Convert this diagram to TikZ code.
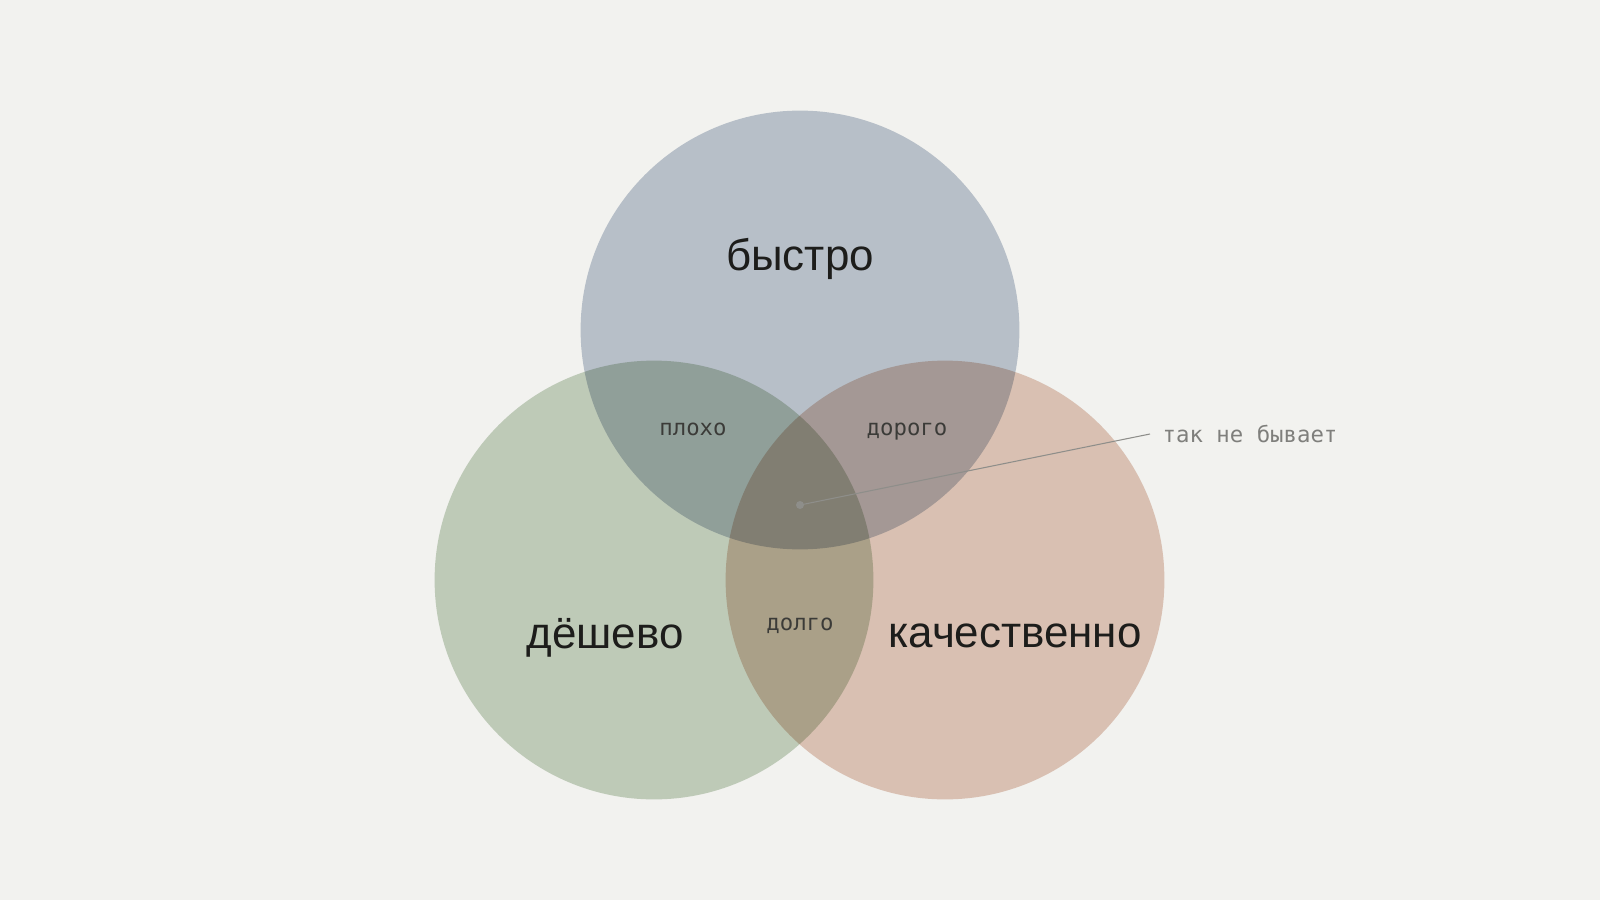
\documentclass[tikz,border=0pt]{standalone}
\usepackage{fontspec}
\setmainfont{Liberation Sans}
\newfontfamily\monofont{DejaVu Sans Mono}
\usepackage{tikz}
\usetikzlibrary{positioning,calc}

\definecolor{paper}{RGB}{242,242,239}
\definecolor{fastcol}{RGB}{193,202,214}
\definecolor{cheapcol}{RGB}{201,213,196}
\definecolor{goodcol}{RGB}{229,203,190}
\definecolor{ink}{RGB}{29,29,27}
\definecolor{midink}{RGB}{59,59,56}
\definecolor{greyink}{RGB}{127,127,124}
\definecolor{leadcol}{RGB}{142,142,138}

\begin{document}
\begin{tikzpicture}[
    set/.style={circle, minimum size=4.388cm, inner sep=0pt, blend mode=multiply},
    big/.style={anchor=base, inner sep=0pt, text=ink, font=\fontsize{12.5}{14}\selectfont},
    small/.style={anchor=base, inner sep=0pt, text=midink, font=\monofont\fontsize{6.35}{7}\selectfont},
    note/.style={inner sep=0pt, text=greyink, font=\monofont\fontsize{6.35}{7}\selectfont},
    leader/.style={draw=leadcol, line width=0.3pt}
]
    \fill[paper] (0,0) rectangle (16,9);
    \useasboundingbox (0,0) rectangle (16,9);

    % the three sets
    \node [set, fill=fastcol] (fast) at (8.00,5.70) {};
    \node [set, fill=cheapcol] (cheap) at (6.54,3.20) {};
    \node [set, fill=goodcol] (good) at (9.45,3.20) {};

    \node [big] (fastlbl) at (8.00,6.30) {быстро};
    \node [big] (cheaplbl) at (6.05,2.52) {дёшево};
    \node [big] (goodlbl) at (10.15,2.53) {качественно};

    % pairwise overlaps
    \node [small] (bad) at (6.93,4.65) {плохо};
    \node [small] (dear) at (9.07,4.65) {дорого};
    \node [small] (slow) at (8.00,2.70) {долго};

    % centre and its note
    \fill[leadcol] (8.00,3.95) circle (0.04) coordinate (dot);
    \coordinate (tip) at (11.50,4.66);
    \node [note, right=0.12 of tip] (never) {так не бывает};
    \draw [leader] (dot) -- (tip);
\end{tikzpicture}
\end{document}
